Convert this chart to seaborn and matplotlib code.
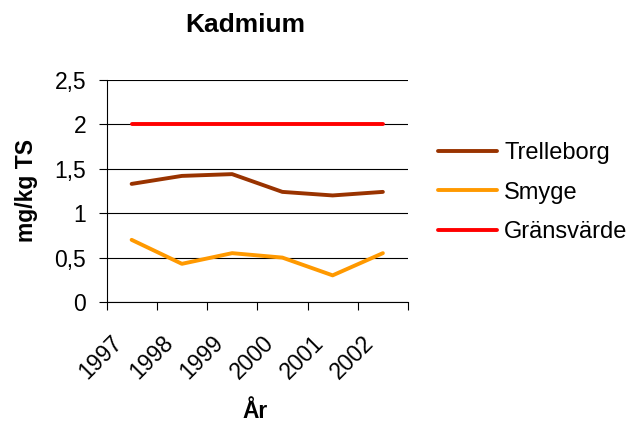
import matplotlib
matplotlib.use("Agg")
import matplotlib.pyplot as plt
import matplotlib.transforms as mtransforms
import seaborn as sns
import pandas as pd
import numpy as np

years = ["1997", "1998", "1999", "2000", "2001", "2002"]
trelleborg = [1.33, 1.42, 1.44, 1.24, 1.20, 1.24]
smyge = [0.70, 0.43, 0.55, 0.50, 0.30, 0.55]
gransvarde = [2.0, 2.0, 2.0, 2.0, 2.0, 2.0]
series_names = ["Trelleborg", "Smyge", "Gränsvärde"]
series_colors = ["#993300", "#FF9900", "#FF0000"]
y_ticks = [0, 0.5, 1, 1.5, 2, 2.5]
y_ticklabels = ["0", "0,5", "1", "1,5", "2", "2,5"]

sns.set_style("white")
plt.rcParams["font.family"] = ["Liberation Sans", "DejaVu Sans"]
plt.rcParams["text.color"] = "black"
plt.rcParams["axes.labelcolor"] = "black"
plt.rcParams["xtick.color"] = "black"
plt.rcParams["ytick.color"] = "black"

rows = []
for name, vals in zip(series_names, [trelleborg, smyge, gransvarde]):
    for i, (yr, v) in enumerate(zip(years, vals)):
        rows.append({"pos": i, "År": yr, "value": v, "series": name})
df = pd.DataFrame(rows)

fig = plt.figure(figsize=(6.31, 4.23), dpi=100)
ax = fig.add_axes([106.5 / 631, 1 - 302 / 423, (408 - 106.5) / 631, (302 - 80) / 423])

sns.lineplot(data=df, x="pos", y="value", hue="series", hue_order=series_names,
             palette=series_colors, linewidth=2.8, ax=ax, legend=True)

ax.set_xlim(-0.5, len(years) - 0.5)
ax.set_ylim(0, 2.5)
ax.set_yticks(y_ticks)
ax.set_yticklabels(y_ticklabels, fontsize=16.5)
ax.grid(axis="y", color="black", linewidth=0.8)
ax.set_axisbelow(True)

# category ticks: marks at boundaries, labels at centers
ax.set_xticks(np.arange(len(years) + 1) - 0.5, minor=True)
ax.set_xticks(np.arange(len(years)))
ax.set_xticklabels(years, fontsize=16.5, rotation=45, ha="right", va="baseline",
                   rotation_mode="anchor")
ax.tick_params(axis="x", which="major", length=0, pad=30, bottom=True)
ax.tick_params(axis="x", which="minor", length=5.5, width=0.8, color="black",
               direction="out", bottom=True)
ax.tick_params(axis="y", length=5.5, width=0.8, color="black", direction="out",
               left=True, pad=9)
shift = mtransforms.ScaledTranslation(-8 / 100, 0, fig.dpi_scale_trans)
for lbl in ax.get_xticklabels():
    lbl.set_transform(lbl.get_transform() + shift)

for side in ["top", "right"]:
    ax.spines[side].set_visible(False)
for side in ["left", "bottom"]:
    ax.spines[side].set_color("black")
    ax.spines[side].set_linewidth(0.8)

ax.set_xlabel("")
ax.set_ylabel("")
fig.text(26 / 631, 1 - 190 / 423, "mg/kg TS", rotation=90, fontsize=16.5,
         fontweight="bold", ha="center", va="center")
fig.text(255 / 631, 1 - 411 / 423, "År", fontsize=16.5, fontweight="bold",
         ha="center", va="center")
fig.text(245 / 631, 1 - 25 / 423, "Kadmium", fontsize=19, fontweight="bold",
         ha="center", va="center")

handles, labels = ax.get_legend_handles_labels()
leg = ax.legend(handles, labels, loc="upper left",
                bbox_to_anchor=(438 / 631, 1 - 142 / 423), bbox_transform=fig.transFigure,
                frameon=False, fontsize=17, handlelength=2.5, handletextpad=0.3,
                labelspacing=0.75, borderpad=0, borderaxespad=0)
for line in leg.get_lines():
    line.set_linewidth(2.8)

fig.savefig("out.png", dpi=100)
